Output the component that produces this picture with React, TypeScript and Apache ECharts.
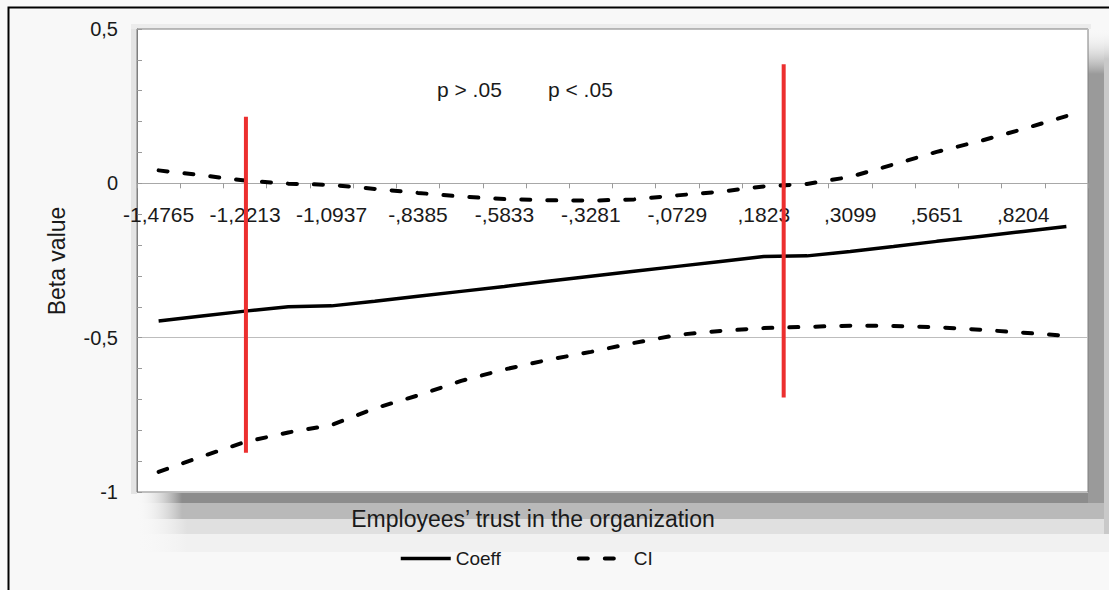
import React, { useEffect, useRef } from 'react';
import * as echarts from 'echarts';

// Moderator values (22 points: 20 grid values + 2 Johnson-Neyman points)
const categories = [
  '-1,4765', '-1,3489', '-1,2213', '-1,1040', '-1,0937', '-,9661', '-,8385', '-,7109',
  '-,5833', '-,4557', '-,3281', '-,2005', '-,0729', ',0547', ',1823', ',1950',
  ',3099', ',4375', ',5651', ',6927', ',8204', ',9480',
];

const coeff = [
  -0.446, -0.430, -0.414, -0.400, -0.397, -0.382, -0.366, -0.350,
  -0.334, -0.317, -0.301, -0.285, -0.269, -0.253, -0.237, -0.235,
  -0.221, -0.205, -0.188, -0.172, -0.156, -0.140,
];

const ciUpper = [
  0.042, 0.026, 0.009, -0.001, -0.005, -0.018, -0.031, -0.043,
  -0.051, -0.055, -0.056, -0.052, -0.039, -0.027, -0.010, -0.002,
  0.021, 0.061, 0.102, 0.137, 0.176, 0.218,
];

const ciLower = [
  -0.935, -0.885, -0.838, -0.807, -0.783, -0.729, -0.687, -0.640,
  -0.603, -0.572, -0.546, -0.517, -0.491, -0.478, -0.469, -0.465,
  -0.461, -0.462, -0.466, -0.474, -0.484, -0.494,
];

// Red significance-boundary markers: [category index, fraction of band beyond it, top beta, bottom beta]
const boundaries = [
  [2, 0.02, 0.216, -0.873],
  [14, 0.46, 0.386, -0.694],
];

const yMin = -1;
const yMax = 0.5;
const yStep = 0.5;

const pLabels = ['p > .05', 'p < .05'];
const xTitle = 'Employees\u2019 trust in the organization';
const yTitle = 'Beta value';

function hFade(x: number, y: number, w: number, h: number, color: string, fadeLen: number) {
  const f = fadeLen / w;
  return {
    type: 'rect', z: -2, silent: true,
    shape: { x, y, width: w, height: h },
    style: {
      fill: new echarts.graphic.LinearGradient(0, 0, 1, 0, [
        { offset: 0, color: 'rgba(247,247,247,0)' },
        { offset: f, color },
        { offset: 1, color },
      ]),
    },
  };
}

function vFade(x: number, y: number, w: number, h: number, color: string, fadeLen: number) {
  const f = fadeLen / h;
  return {
    type: 'rect', z: -2, silent: true,
    shape: { x, y, width: w, height: h },
    style: {
      fill: new echarts.graphic.LinearGradient(0, 0, 0, 1, [
        { offset: 0, color: 'rgba(247,247,247,0)' },
        { offset: f, color },
        { offset: 1, color },
      ]),
    },
  };
}

export default function App() {
  const ref = useRef<HTMLDivElement>(null);

  useEffect(() => {
    if (!ref.current) return;
    const chart = echarts.init(ref.current, null, { renderer: 'svg' });
    const font = "'Liberation Sans', Arial, sans-serif";
    const dash = { color: '#000', width: 4, type: [9, 17] as any, cap: 'round' as const };

    const gridTop = 29;
    const gridBottom = 98;
    const plotH = 590 - gridTop - gridBottom;
    // put the category axis on the y = 0 line
    const zeroOffset = -plotH * (0 - yMin) / (yMax - yMin);

    chart.setOption({
      animation: false,
      backgroundColor: '#f8f8f8',
      textStyle: { fontFamily: font },
      grid: {
        left: 137, top: gridTop, right: 21, bottom: gridBottom,
        show: true, borderColor: '#7f7f7f', borderWidth: 1, backgroundColor: '#ffffff',
      },
      legend: {
        data: [
          { name: 'Coeff', lineStyle: { width: 3.5 } },
          { name: 'CI', lineStyle: { width: 4, type: [9, 17], cap: 'round' } },
        ],
        left: 394, top: 544,
        itemWidth: 50, itemHeight: 1, itemGap: 76,
        itemStyle: { opacity: 0 },
        textStyle: { fontSize: 19, color: '#1a1a1a', fontFamily: font },
      },
      xAxis: {
        type: 'category',
        data: categories,
        boundaryGap: true,
        position: 'bottom',
        offset: zeroOffset,
        axisLine: { onZero: false, lineStyle: { color: '#a8a8a8', width: 1 } },
        axisTick: { show: true, interval: 0, length: 5, lineStyle: { color: '#9a9a9a' } },
        axisLabel: { interval: 1, fontSize: 21, color: '#1a1a1a', margin: 21, fontFamily: font },
        splitLine: { show: false },
      },
      yAxis: {
        type: 'value', min: yMin, max: yMax, interval: yStep,
        axisLine: { show: true, onZero: false, lineStyle: { color: '#7f7f7f' } },
        axisTick: { show: true, inside: true, length: 5, lineStyle: { color: '#9a9a9a' } },
        minorTick: { show: true, splitNumber: 5, length: 5, lineStyle: { color: '#9a9a9a' } },
        axisLabel: {
          fontSize: 20, color: '#1a1a1a', margin: 19, fontFamily: font,
          formatter: (v: number) => String(v).replace('.', ','),
        },
        splitLine: { show: true, lineStyle: { color: '#bdbdbd', width: 1 } },
      },
      graphic: [
        {
          type: 'polyline', z: -5,
          shape: { points: [[8.5, 590], [8.5, 7.5], [1109, 7.5]] },
          style: { stroke: '#000', lineWidth: 2, fill: null },
        },
        // soft light halo on the left / top of the plot
        { type: 'rect', z: -3, silent: true, shape: { x: 131, y: 24, width: 6, height: 470 }, style: { fill: '#e4e4e4' } },
        { type: 'rect', z: -3, silent: true, shape: { x: 131, y: 24, width: 960, height: 5 }, style: { fill: '#ececec' } },
        // bottom shadow bands
        hFade(137, 534, 972, 18, '#f1f1f1', 50),
        hFade(137, 519, 972, 15, '#e0e0e0', 50),
        hFade(137, 503, 972, 16, '#b9b9b9', 45),
        hFade(137, 492, 951, 11, '#8c8c8c', 45),
        // right shadow bands
        vFade(1104, 29, 5, 505, '#c9c9c9', 30),
        vFade(1088, 29, 16, 474, '#9a9a9a', 45),
        {
          type: 'text', x: 437, y: 89,
          style: { text: pLabels[0], fontSize: 21, fontFamily: font, fill: '#1a1a1a', align: 'left', verticalAlign: 'middle' },
        },
        {
          type: 'text', x: 548, y: 89,
          style: { text: pLabels[1], fontSize: 21, fontFamily: font, fill: '#1a1a1a', align: 'left', verticalAlign: 'middle' },
        },
        {
          type: 'text', x: 533, y: 519,
          style: { text: xTitle, fontSize: 23, fontFamily: font, fill: '#1a1a1a', align: 'center', verticalAlign: 'middle' },
        },
        {
          type: 'text', x: 57, y: 261, rotation: Math.PI / 2,
          style: { text: yTitle, fontSize: 23, fontFamily: font, fill: '#1a1a1a', align: 'center', verticalAlign: 'middle' },
        },
      ],
      series: [
        {
          name: 'CI', type: 'line', data: ciUpper, symbol: 'none', smooth: false,
          lineStyle: dash, itemStyle: { color: '#000' }, z: 3,
        },
        {
          name: 'CI', type: 'line', data: ciLower, symbol: 'none', smooth: false,
          lineStyle: dash, itemStyle: { color: '#000' }, z: 3,
        },
        {
          name: 'Coeff', type: 'line', data: coeff, symbol: 'none', smooth: false,
          lineStyle: { color: '#000', width: 3.5 }, itemStyle: { color: '#000' }, z: 4,
        },
        {
          name: 'boundaries', type: 'custom', z: 5,
          data: boundaries,
          renderItem: (params: any, api: any) => {
            const idx = api.value(0);
            const frac = api.value(1);
            const top = api.coord([idx, api.value(2)]);
            const bottom = api.coord([idx, api.value(3)]);
            const bw = api.size([1, 0])[0];
            const x = top[0] + frac * bw;
            return {
              type: 'line',
              shape: { x1: x, y1: top[1], x2: x, y2: bottom[1] },
              style: { stroke: '#ec2f2f', lineWidth: 4 },
            };
          },
        },
      ],
    });

    return () => chart.dispose();
  }, []);

  return (
    <div
      ref={ref}
      style={{ position: 'fixed', left: 0, top: 0, width: 1109, height: 590 }}
    />
  );
}
